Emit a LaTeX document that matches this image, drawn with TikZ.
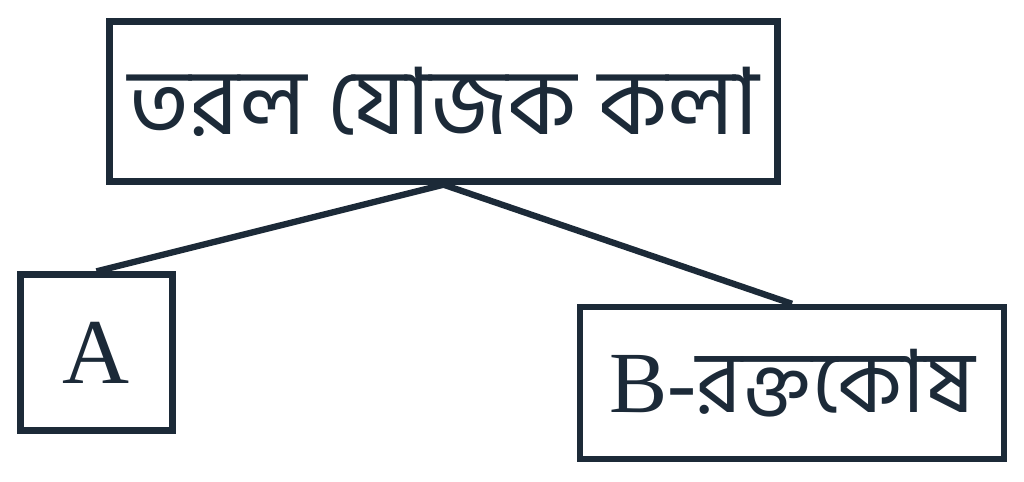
\documentclass[tikz,border=0pt]{standalone}
\usepackage{fontspec}
\setmainfont{Liberation Serif}
\newfontfamily\bnfont[Script=Bengali]{Hind Siliguri}
\usepackage{tikz}
\usetikzlibrary{shapes,arrows}
\definecolor{inkblue}{HTML}{1C2A38}

\begin{document}
\begin{tikzpicture}[x=0.025cm,y=-0.025cm,
    tbox/.style={draw=inkblue,line width=4.5pt,inner sep=0pt,text=inkblue,font=\fontsize{66}{70}\selectfont}]
    \useasboundingbox (0,0) rectangle (1024,481);
    % Draw the boxes
    \node [tbox,minimum width=16.7cm,minimum height=4cm] (liquid) at (443.5,101.5) {\bnfont তরল যোজক কলা};
    \node [tbox,minimum width=3.8cm,minimum height=3.9cm] (a) at (96.5,352.5) {A};
    \node [tbox,minimum width=10.6cm,minimum height=3.8cm,font=\fontsize{62}{66}\selectfont] (b) at (792,383) {B-{\bnfont রক্তকোষ}};

    % Draw the branches
    \draw [inkblue,line width=4.5pt] (liquid.south) -- (a.north);
    \draw [inkblue,line width=4.5pt] (liquid.south) -- (b.north);
\end{tikzpicture}
\end{document}
